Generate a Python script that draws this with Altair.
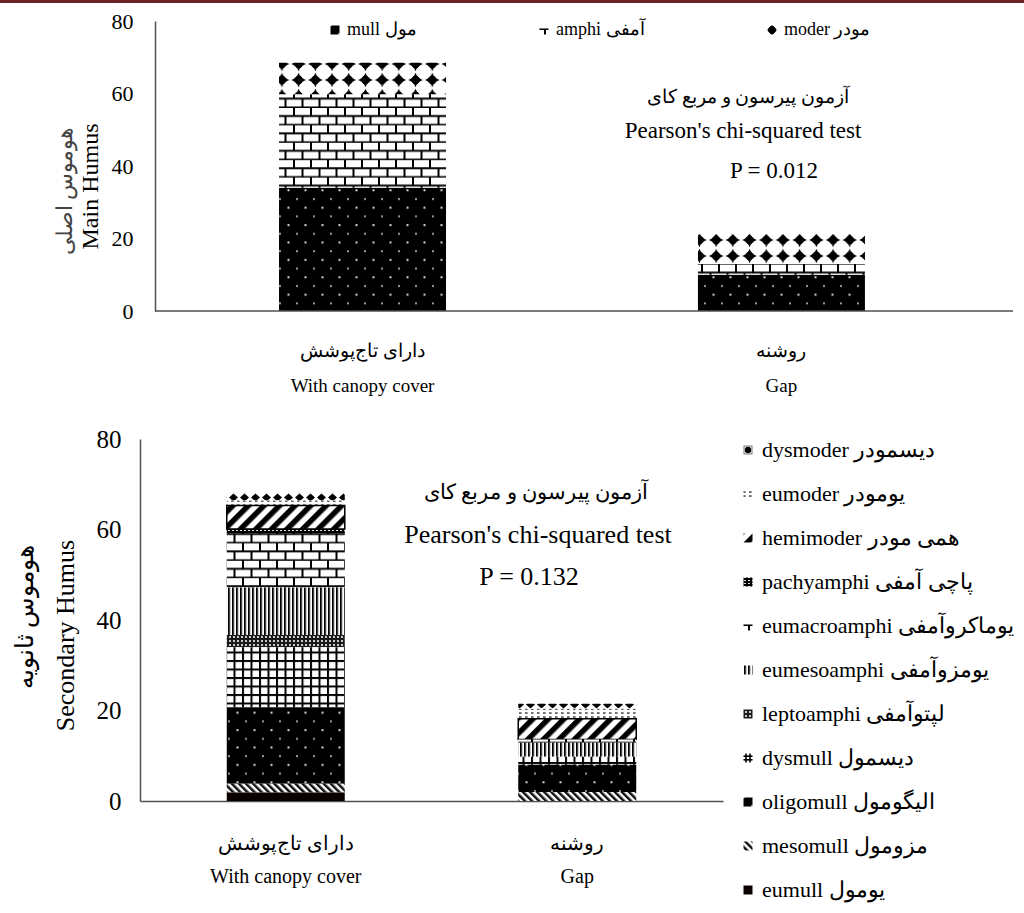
import json
import altair as alt
import pandas as pd
import jinja2

# ------------------------------------------------------------------ data
SITES = ["With canopy cover", "Gap"]
SITES_FA = ["دارای تاج‌پوشش", "روشنه"]
Y_TICKS = [0, 20, 40, 60, 80]

MAIN_TYPES = ["mull مول", "amphi آمفی", "moder مودر"]
MAIN_CANOPY = [34.0, 25.8, 8.7]
MAIN_GAP = [10.0, 3.0, 8.2]
MAIN_TITLE_EN = "Main Humus"
MAIN_TITLE_FA = "هوموس اصلی"
MAIN_NOTE = ["آزمون پیرسون و مربع کای", "Pearson's chi-squared test", "P = 0.012"]

SEC_TYPES = [
    "dysmoder  دیسمودر",
    "eumoder یومودر",
    "hemimoder همی مودر",
    "pachyamphi پاچی آمفی",
    "eumacroamphi یوماکروآمفی",
    "eumesoamphi یومزوآمفی",
    "leptoamphi لپتوآمفی",
    "dysmull  دیسمول",
    "oligomull الیگومول",
    "mesomull مزومول",
    "eumull یومول",
]
SEC_CANOPY = [1.8, 1.1, 5.2, 0.9, 12.0, 10.5, 2.7, 13.3, 16.9, 1.9, 1.9]
SEC_GAP = [1.1, 2.2, 4.6, 0.0, 0.7, 3.1, 0.0, 1.8, 6.0, 2.0, 0.0]
SEC_TITLE_EN = "Secondary Humus"
SEC_TITLE_FA = "هوموس ثانویه"
SEC_NOTE = ["آزمون پیرسون و مربع کای", "Pearson's chi-squared test", "P = 0.132"]

# ------------------------------------------------------------------ style
SERIF = "Liberation Serif"
AX_COLOR = "#505050"
MAIN_FILLS = ["url(#pt-dots)", "url(#pt-brick)", "url(#pt-diamond)"]
MAIN_SYM_FILLS = ["url(#pt-dots)", "url(#pt-brick)", "url(#ps-diamond)"]
SEC_FILLS = ["url(#pt-sdiamond)", "url(#pt-eumoder)", "url(#pt-wdiag)", "url(#pt-pachy)",
             "url(#pt-brick)", "url(#pt-vlines)", "url(#pt-lepto)", "url(#pt-grid)",
             "url(#pt-dots)", "url(#pt-hatch)", "#0b0000"]
SEC_SYM_FILLS = ["url(#ps-dysmoder)", "url(#pt-eumoder)", "url(#pt-wdiag)", "url(#pt-pachy)",
                 "url(#pt-brick)", "url(#pt-vlines)", "url(#pt-lepto)", "url(#ps-grid)",
                 "url(#pt-dots)", "url(#pt-hatch)", "#0b0000"]
FRAMED_TYPE = SEC_TYPES[2]
TOP_BAR_W = {"With canopy cover": 167, "Gap": 167}
BOT_BAR_W = {"With canopy cover": 118, "Gap": 118}
W_TOP, H_TOP = 873, 290
W_BOT, H_BOT = 583, 362
TOP_SHIFT = 15

PATTERNS = """
<div style="position:absolute;left:0;top:0;width:100%;height:3px;background:#6e2424"></div>
<svg width="0" height="0" style="position:absolute;left:0;top:0" aria-hidden="true">
<defs>
<pattern id="pt-dots" patternUnits="userSpaceOnUse" width="17" height="17.4">
  <rect width="17" height="17.4" fill="#000"/>
  <rect x="3" y="3" width="2" height="2" fill="#9a9a9a"/>
  <rect x="11.5" y="11.7" width="2" height="2" fill="#d8d8d8"/>
</pattern>
<pattern id="pt-brick" patternUnits="userSpaceOnUse" width="17" height="17.4">
  <rect width="17" height="17.4" fill="#fff"/>
  <rect y="6.9" width="17" height="1" fill="#888"/>
  <rect y="7.2" width="17" height="1.8" fill="#000"/>
  <rect y="15.9" width="17" height="1.8" fill="#000"/>
  <rect x="0" y="0" width="2" height="8.7" fill="#000"/>
  <rect x="8.5" y="8.7" width="2" height="8.7" fill="#000"/>
</pattern>
<pattern id="pt-diamond" patternUnits="userSpaceOnUse" width="16.7" height="16" y="3">
  <rect width="16.7" height="16" fill="#fff"/>
  <path d="M8.35,0.8 Q10,6 15.6,8 Q10,10 8.35,15.2 Q6.7,10 1.1,8 Q6.7,6 8.35,0.8 Z" fill="#000"/>
  <circle cx="8.35" cy="8" r="4.2" fill="#000"/>
</pattern>
<pattern id="ps-diamond" patternUnits="userSpaceOnUse" width="20" height="20" x="-10" y="-10">
  <rect width="20" height="20" fill="#fff"/>
  <path d="M10,4.6 L15.2,10 L10,15.4 L4.8,10 Z" fill="#000"/>
</pattern>
<pattern id="pt-sdiamond" patternUnits="userSpaceOnUse" width="11" height="9">
  <rect width="11" height="9" fill="#fff"/>
  <path d="M5.5,0.5 L10,4.5 L5.5,8.5 L1,4.5 Z" fill="#000"/>
</pattern>
<pattern id="ps-dysmoder" patternUnits="userSpaceOnUse" width="20" height="20" x="-10" y="-10">
  <rect width="20" height="20" fill="#777"/>
  <rect x="6.5" y="6.5" width="7" height="7" fill="#fff"/>
  <circle cx="10" cy="10" r="3.2" fill="#000"/>
</pattern>
<pattern id="pt-eumoder" patternUnits="userSpaceOnUse" width="6" height="4">
  <rect width="6" height="4" fill="#fff"/>
  <rect x="1" y="1.4" width="2.6" height="1.3" fill="#222"/>
</pattern>
<pattern id="pt-wdiag" patternUnits="userSpaceOnUse" width="11" height="11" patternTransform="rotate(45)">
  <rect width="11" height="11" fill="#fff"/>
  <rect width="5.5" height="11" fill="#000"/>
</pattern>
<pattern id="pt-pachy" patternUnits="userSpaceOnUse" width="4" height="3">
  <rect width="4" height="3" fill="#000"/>
  <rect x="0" y="1" width="2" height="1" fill="#ddd"/>
</pattern>
<pattern id="pt-vlines" patternUnits="userSpaceOnUse" width="4" height="4">
  <rect width="4" height="4" fill="#fff"/>
  <rect width="1.8" height="4" fill="#000"/>
  <rect x="1.8" width="0.6" height="4" fill="#888"/>
</pattern>
<pattern id="pt-lepto" patternUnits="userSpaceOnUse" width="4" height="4">
  <rect width="4" height="4" fill="#1a1a1a"/>
  <rect x="1" y="1" width="2" height="2" fill="#c8c8c8"/>
</pattern>
<pattern id="pt-grid" patternUnits="userSpaceOnUse" width="8.5" height="8.5">
  <rect width="8.5" height="8.5" fill="#000"/>
  <rect x="2" y="2" width="6.5" height="6.5" fill="#fff"/>
</pattern>
<pattern id="ps-grid" patternUnits="userSpaceOnUse" width="20" height="20" x="-10" y="-10">
  <rect width="20" height="20" fill="#fff"/>
  <rect x="7.2" y="5" width="1.6" height="10" fill="#000"/>
  <rect x="11.2" y="5" width="1.6" height="10" fill="#000"/>
  <rect x="5" y="7.4" width="10" height="1.6" fill="#000"/>
  <rect x="5" y="11" width="10" height="1.6" fill="#000"/>
</pattern>
<pattern id="pt-hatch" patternUnits="userSpaceOnUse" width="5" height="5" patternTransform="rotate(-45)">
  <rect width="5" height="5" fill="#fff"/>
  <rect width="2.5" height="5" fill="#111"/>
</pattern>
</defs>
</svg>
"""

TEMPLATE = jinja2.Template("""<!DOCTYPE html>
<html>
<head>
  <meta charset="utf-8">
  <style>
    #{{ output_div }}.vega-embed { width: 100%; display: flex; }
    #{{ output_div }}.vega-embed details,
    #{{ output_div }}.vega-embed details summary { position: relative; }
  </style>
  <script type="text/javascript" src="{{ base_url or 'https://cdn.jsdelivr.net/npm' }}/vega@{{ vega_version }}"></script>
  <script type="text/javascript" src="{{ base_url or 'https://cdn.jsdelivr.net/npm' }}/vega-lite@{{ vegalite_version }}"></script>
  <script type="text/javascript" src="{{ base_url or 'https://cdn.jsdelivr.net/npm' }}/vega-embed@{{ vegaembed_version }}"></script>
</head>
<body>
""" + PATTERNS + """
  <div id="{{ output_div }}"></div>
  <script>
    (function(vegaEmbed) {
      var spec = {{ spec }};
      var embedOpt = {{ embed_options }};
      function showError(el, error){
        el.innerHTML = ('<div style="color:red;"><p>JavaScript Error: ' + error.message + '</p></div>');
        throw error;
      }
      const el = document.getElementById('{{ output_div }}');
      vegaEmbed("#{{ output_div }}", spec, embedOpt).catch(error => showError(el, error));
    })(vegaEmbed);
  </script>
</body>
</html>
""")


def stack_frame(types, canopy, gap, widths, reverse):
    rows = []
    n = len(types)
    for site, vals in zip(SITES, [canopy, gap]):
        for i, (t, v) in enumerate(zip(types, vals)):
            rows.append({"site": site, "type": t, "value": v,
                         "stack": (n - 1 - i) if reverse else i,
                         "bw": widths[site]})
    return pd.DataFrame(rows)


def site_label_expr():
    parts = []
    for en, fa in zip(SITES[:-1], SITES_FA[:-1]):
        parts.append("datum.value == %s ? [%s, %s]" % (
            json.dumps(en, ensure_ascii=False), json.dumps(fa, ensure_ascii=False),
            json.dumps(en, ensure_ascii=False)))
    last = "[%s, %s]" % (json.dumps(SITES_FA[-1], ensure_ascii=False),
                         json.dumps(SITES[-1], ensure_ascii=False))
    return " : ".join(parts + [last])


def note(text, x, y, size, color="#000"):
    return alt.Chart(pd.DataFrame({"t": [text]})).mark_text(
        font=SERIF, fontSize=size, color=color, align="center", baseline="middle"
    ).encode(text="t:N", x=alt.value(x), y=alt.value(y))


def vnote(text, x, y, size, color="#000"):
    return alt.Chart(pd.DataFrame({"t": [text]})).mark_text(
        font=SERIF, fontSize=size, color=color, align="center", baseline="middle", angle=270
    ).encode(text="t:N", x=alt.value(x), y=alt.value(y))


def legend_layer(df, types, sym_fills, legend):
    # invisible marks that only carry the legend (symbols drawn with legend-sized swatches)
    return alt.Chart(df).mark_square(opacity=0, size=0).encode(
        fill=alt.Fill("type:N", scale=alt.Scale(domain=types, range=sym_fills), legend=legend),
        x=alt.value(0), y=alt.value(0),
    )


# ------------------------------------------------------------------ top chart
main_df = stack_frame(MAIN_TYPES, MAIN_CANOPY, MAIN_GAP, TOP_BAR_W, reverse=False)

top_bars = alt.Chart(main_df).mark_bar().encode(
    x=alt.X("site:N", title=None,
            scale=alt.Scale(domain=SITES, paddingInner=0.2, paddingOuter=0.142, align=0.462),
            axis=alt.Axis(domain=False, ticks=False, labelAngle=0, labelExpr=site_label_expr(),
                          labelFontSize=19, labelLineHeight=35, labelPadding=30,
                          labelColor="#000", labelFont=SERIF)),
    y=alt.Y("value:Q", stack="zero", scale=alt.Scale(domain=[0, 80], nice=False),
            axis=alt.Axis(values=Y_TICKS, offset=-TOP_SHIFT, grid=False, ticks=False,
                          domainColor=AX_COLOR, domainWidth=1.5, labelFontSize=22,
                          labelPadding=22, labelColor="#000", labelFont=SERIF,
                          title=MAIN_TITLE_EN, titleFont=SERIF, titleFontSize=24,
                          titleFontWeight="normal", titleColor="#000", titleAngle=270,
                          titleAlign="center", titleBaseline="middle",
                          titleX=-65, titleY=165)),
    fill=alt.Fill("type:N", scale=alt.Scale(domain=MAIN_TYPES, range=MAIN_FILLS), legend=None),
    order=alt.Order("stack:Q"),
    size=alt.Size("bw:Q", scale=None, legend=None),
)

top_legend = legend_layer(main_df, MAIN_TYPES, MAIN_SYM_FILLS, alt.Legend(
    orient="none", legendX=186, legendY=0, title=None, direction="horizontal",
    columns=3, columnPadding=118, symbolType="square", symbolSize=81,
    symbolStrokeWidth=0, symbolOpacity=1, labelFont=SERIF, labelFontSize=18,
    labelColor="#000", labelLimit=300, labelOffset=3, padding=0))

top_axis_line = alt.Chart(pd.DataFrame({"a": [0]})).mark_rule(
    color=AX_COLOR, strokeWidth=1.5
).encode(x=alt.value(TOP_SHIFT), x2=alt.value(W_TOP), y=alt.value(H_TOP))

top = alt.layer(
    top_bars,
    top_legend,
    top_axis_line,
    vnote(MAIN_TITLE_FA, -75, 170, 22, "#444"),
    note(MAIN_NOTE[0], 608, 76, 19),
    note(MAIN_NOTE[1], 603, 110, 23),
    note(MAIN_NOTE[2], 634, 150, 23),
).resolve_scale(fill="independent").properties(width=W_TOP, height=H_TOP)

# ------------------------------------------------------------------ bottom chart
sec_df = stack_frame(SEC_TYPES, SEC_CANOPY, SEC_GAP, BOT_BAR_W, reverse=True)

bot_bars = alt.Chart(sec_df).mark_bar(stroke="#000").encode(
    x=alt.X("site:N", title=None,
            scale=alt.Scale(domain=SITES, paddingInner=0.595, paddingOuter=0.2976, align=0.5),
            axis=alt.Axis(domain=True, domainColor=AX_COLOR, domainWidth=1.5, ticks=False,
                          labelAngle=0, labelExpr=site_label_expr(), labelFontSize=20,
                          labelLineHeight=33, labelPadding=32, labelColor="#000",
                          labelFont=SERIF)),
    y=alt.Y("value:Q", stack="zero", scale=alt.Scale(domain=[0, 80], nice=False),
            axis=alt.Axis(values=Y_TICKS, grid=False, ticks=False, domainColor=AX_COLOR,
                          domainWidth=1.5, labelFontSize=25, labelPadding=19,
                          labelColor="#000", labelFont=SERIF,
                          title=SEC_TITLE_EN, titleFont=SERIF, titleFontSize=26,
                          titleFontWeight="normal", titleColor="#000", titleAngle=270,
                          titleAlign="center", titleBaseline="middle",
                          titleX=-75, titleY=196)),
    fill=alt.Fill("type:N", scale=alt.Scale(domain=SEC_TYPES, range=SEC_FILLS), legend=None),
    strokeWidth=alt.condition(alt.datum.type == FRAMED_TYPE, alt.value(1.5), alt.value(0)),
    order=alt.Order("stack:Q"),
    size=alt.Size("bw:Q", scale=None, legend=None),
)

bot_legend = legend_layer(sec_df, SEC_TYPES, SEC_SYM_FILLS, alt.Legend(
    orient="none", legendX=597, legendY=0, title=None, direction="vertical",
    rowPadding=22, symbolType="square", symbolSize=81, symbolStrokeWidth=0,
    symbolOpacity=1, labelFont=SERIF, labelFontSize=22, labelColor="#000",
    labelLimit=400, labelOffset=3, padding=0))

bot = alt.layer(
    bot_bars,
    bot_legend,
    vnote(SEC_TITLE_FA, -115, 178, 25),
    note(SEC_NOTE[0], 396, 54, 21),
    note(SEC_NOTE[1], 398, 96, 26),
    note(SEC_NOTE[2], 389, 138, 26),
).resolve_scale(fill="independent").properties(width=W_BOT, height=H_BOT)

chart = alt.vconcat(top, bot, spacing=128, bounds="flush").resolve_scale(
    x="independent", y="independent", fill="independent"
).properties(
    padding={"left": 5, "top": 2, "right": 0, "bottom": 2}
).configure_view(stroke=None)

chart.save("out.html", embed_options={"renderer": "svg", "actions": False}, template=TEMPLATE)
